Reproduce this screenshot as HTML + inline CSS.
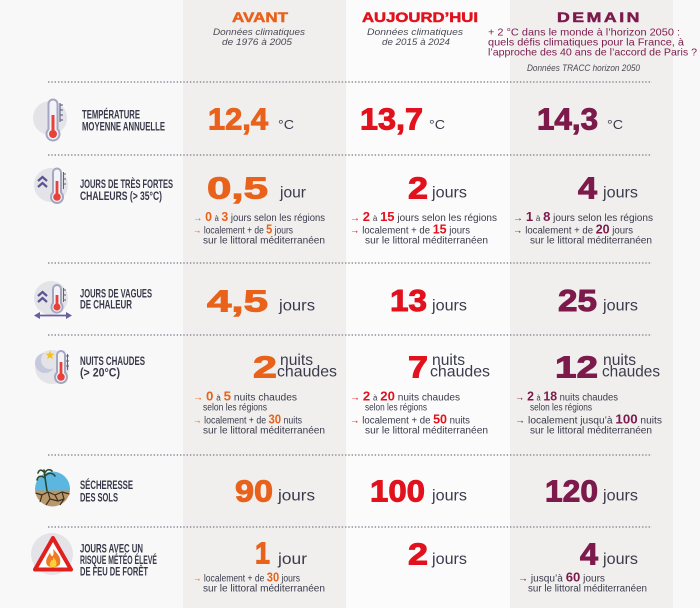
<!DOCTYPE html>
<html><head><meta charset="utf-8">
<style>
html,body{margin:0;padding:0;background:#f8f8f8;width:700px;height:608px;overflow:hidden}
svg{display:block}
text{font-family:"Liberation Sans",Arial,sans-serif}
.n{font-weight:bold;font-size:31px;stroke-width:1}
.u{font-size:16px;fill:#3b3b4d}
.deg{font-size:12.5px;fill:#3b3b4d}
.b{font-size:10px;fill:#3b3b4d}
.lb{font-family:"Liberation Sans Narrow","Liberation Sans",sans-serif;font-weight:bold;font-size:11.5px;fill:#38384a}
.o{fill:#e8621c;stroke:#e8621c}
.r{fill:#e1121d;stroke:#e1121d}
.p{fill:#7c1a4c;stroke:#7c1a4c}
.bo{font-weight:bold;font-size:13px;stroke:none}
.ar{stroke:none}
.sm{font-size:8px}
.it{font-style:italic;font-size:9.6px;fill:#4a4a55}
.h{font-weight:bold;font-size:14px}
</style></head><body>
<svg width="700" height="608" viewBox="0 0 700 608" xmlns="http://www.w3.org/2000/svg">
<defs>
<clipPath id="c5"><circle cx="52.5" cy="489" r="17.5"/></clipPath>
</defs>
<rect x="0" y="0" width="700" height="608" fill="#f8f8f8"/>
<rect x="183" y="0" width="163" height="608" fill="#f0efed"/>
<rect x="346" y="0" width="164" height="608" fill="#fbfbfb"/>
<rect x="510" y="0" width="163" height="608" fill="#f0efed"/>

<g stroke="#8e8e9c" stroke-width="1.4" stroke-dasharray="1.4 1.9">
<line x1="48" y1="82" x2="652" y2="82"/>
<line x1="48" y1="155" x2="652" y2="155"/>
<line x1="48" y1="263" x2="652" y2="263"/>
<line x1="48" y1="335" x2="652" y2="335"/>
<line x1="48" y1="455" x2="652" y2="455"/>
<line x1="48" y1="527" x2="652" y2="527"/>
</g>

<text class="h o" x="232" y="22" textLength="56" lengthAdjust="spacingAndGlyphs" style="stroke-width:0.5">AVANT</text>
<text class="h r" x="362" y="22" textLength="116" lengthAdjust="spacingAndGlyphs" style="stroke-width:0.5">AUJOURD’HUI</text>
<text class="h p" x="557" y="22" textLength="85" lengthAdjust="spacingAndGlyphs" style="stroke-width:0.5;letter-spacing:2px">DEMAIN</text>

<text class="it" x="259" y="35" text-anchor="middle" textLength="92" lengthAdjust="spacingAndGlyphs">Données climatiques</text>
<text class="it" x="257" y="45" text-anchor="middle" textLength="70" lengthAdjust="spacingAndGlyphs">de 1976 à 2005</text>
<text class="it" x="415" y="35" text-anchor="middle" textLength="96" lengthAdjust="spacingAndGlyphs">Données climatiques</text>
<text class="it" x="416" y="45" text-anchor="middle" textLength="68" lengthAdjust="spacingAndGlyphs">de 2015 à 2024</text>

<g style="font-size:10.5px;fill:#7c1a4c">
<text x="488" y="35.5" textLength="192" lengthAdjust="spacingAndGlyphs">+ 2 °C dans le monde à l’horizon 2050 :</text>
<text x="488" y="45.5" textLength="196" lengthAdjust="spacingAndGlyphs">quels défis climatiques pour la France, à</text>
<text x="488" y="55.5" textLength="209" lengthAdjust="spacingAndGlyphs">l’approche des 40 ans de l’accord de Paris ?</text>
</g>
<text class="it" x="527" y="71" textLength="113" lengthAdjust="spacingAndGlyphs">Données TRACC horizon 2050</text>

<text class="lb" x="82" y="118.5" textLength="58" lengthAdjust="spacingAndGlyphs">TEMPÉRATURE</text>
<text class="lb" x="82" y="130.5" textLength="83" lengthAdjust="spacingAndGlyphs">MOYENNE ANNUELLE</text>
<text class="lb" x="80" y="188" textLength="93" lengthAdjust="spacingAndGlyphs">JOURS DE TRÈS FORTES</text>
<text class="lb" x="80" y="200" textLength="82" lengthAdjust="spacingAndGlyphs">CHALEURS (&gt; 35°C)</text>
<text class="lb" x="80" y="297.5" textLength="72" lengthAdjust="spacingAndGlyphs">JOURS DE VAGUES</text>
<text class="lb" x="80" y="308.5" textLength="52" lengthAdjust="spacingAndGlyphs">DE CHALEUR</text>
<text class="lb" x="80" y="365" textLength="65" lengthAdjust="spacingAndGlyphs">NUITS CHAUDES</text>
<text class="lb" x="80" y="376.5" textLength="40" lengthAdjust="spacingAndGlyphs">(&gt; 20°C)</text>
<text class="lb" x="80" y="489" textLength="53" lengthAdjust="spacingAndGlyphs">SÉCHERESSE</text>
<text class="lb" x="80" y="501.5" textLength="38" lengthAdjust="spacingAndGlyphs">DES SOLS</text>
<text class="lb" x="80" y="552.5" textLength="63" lengthAdjust="spacingAndGlyphs">JOURS AVEC UN</text>
<text class="lb" x="80" y="564" textLength="77" lengthAdjust="spacingAndGlyphs">RISQUE MÉTÉO ÉLEVÉ</text>
<text class="lb" x="80" y="575.5" textLength="68" lengthAdjust="spacingAndGlyphs">DE FEU DE FORÊT</text>

<text class="n o" x="208" y="129.5" textLength="60" lengthAdjust="spacingAndGlyphs">12,4</text>
<text class="deg" x="278" y="129" textLength="16" lengthAdjust="spacingAndGlyphs">°C</text>
<text class="n r" x="360" y="129.5" textLength="63" lengthAdjust="spacingAndGlyphs">13,7</text>
<text class="deg" x="429" y="129" textLength="16" lengthAdjust="spacingAndGlyphs">°C</text>
<text class="n p" x="537" y="129.5" textLength="61" lengthAdjust="spacingAndGlyphs">14,3</text>
<text class="deg" x="607" y="129" textLength="16" lengthAdjust="spacingAndGlyphs">°C</text>

<text class="n o" x="207" y="198.5" textLength="61" lengthAdjust="spacingAndGlyphs">0,5</text>
<text class="u" x="280" y="197.5" textLength="26" lengthAdjust="spacingAndGlyphs">jour</text>
<text class="n r" x="408" y="198.5" textLength="20" lengthAdjust="spacingAndGlyphs">2</text>
<text class="u" x="432" y="197.5" textLength="35" lengthAdjust="spacingAndGlyphs">jours</text>
<text class="n p" x="578" y="198.5" textLength="19" lengthAdjust="spacingAndGlyphs">4</text>
<text class="u" x="603" y="197.5" textLength="35" lengthAdjust="spacingAndGlyphs">jours</text>

<text class="b" x="193" y="221" textLength="132" lengthAdjust="spacingAndGlyphs"><tspan class="o ar">→ </tspan><tspan class="bo o">0</tspan> <tspan class="sm">à</tspan> <tspan class="bo o">3</tspan> jours selon les régions</text>
<text class="b" x="193" y="233.5" textLength="100" lengthAdjust="spacingAndGlyphs"><tspan class="o ar">→ </tspan>localement + de <tspan class="bo o">5</tspan> jours</text>
<text class="b" x="203" y="243.5" textLength="122" lengthAdjust="spacingAndGlyphs">sur le littoral méditerranéen</text>

<text class="b" x="350" y="221" textLength="147" lengthAdjust="spacingAndGlyphs"><tspan class="r ar">→ </tspan><tspan class="bo r">2</tspan> <tspan class="sm">à</tspan> <tspan class="bo r">15</tspan> jours selon les régions</text>
<text class="b" x="350" y="233.5" textLength="120" lengthAdjust="spacingAndGlyphs"><tspan class="r ar">→ </tspan>localement + de <tspan class="bo r">15</tspan> jours</text>
<text class="b" x="365" y="243.5" textLength="123" lengthAdjust="spacingAndGlyphs">sur le littoral méditerranéen</text>

<text class="b" x="513" y="221" textLength="140" lengthAdjust="spacingAndGlyphs"><tspan class="p ar">→ </tspan><tspan class="bo p">1</tspan> <tspan class="sm">à</tspan> <tspan class="bo p">8</tspan> jours selon les régions</text>
<text class="b" x="513" y="233.5" textLength="120" lengthAdjust="spacingAndGlyphs"><tspan class="p ar">→ </tspan>localement + de <tspan class="bo p">20</tspan> jours</text>
<text class="b" x="530" y="243.5" textLength="122" lengthAdjust="spacingAndGlyphs">sur le littoral méditerranéen</text>

<text class="n o" x="207" y="311.5" textLength="61" lengthAdjust="spacingAndGlyphs">4,5</text>
<text class="u" x="279" y="310.5" textLength="36" lengthAdjust="spacingAndGlyphs">jours</text>
<text class="n r" x="390" y="311" textLength="37" lengthAdjust="spacingAndGlyphs">13</text>
<text class="u" x="432" y="310.5" textLength="35" lengthAdjust="spacingAndGlyphs">jours</text>
<text class="n p" x="558" y="311" textLength="39" lengthAdjust="spacingAndGlyphs">25</text>
<text class="u" x="603" y="310.5" textLength="35" lengthAdjust="spacingAndGlyphs">jours</text>

<text class="n o" x="253" y="377.5" textLength="24" lengthAdjust="spacingAndGlyphs">2</text>
<text class="u" x="280" y="365" textLength="33" lengthAdjust="spacingAndGlyphs">nuits</text>
<text class="u" x="277" y="376.5" textLength="60" lengthAdjust="spacingAndGlyphs">chaudes</text>
<text class="n r" x="408" y="377.5" textLength="20" lengthAdjust="spacingAndGlyphs">7</text>
<text class="u" x="432" y="365" textLength="33" lengthAdjust="spacingAndGlyphs">nuits</text>
<text class="u" x="430" y="376.5" textLength="60" lengthAdjust="spacingAndGlyphs">chaudes</text>
<text class="n p" x="555" y="377.5" textLength="43" lengthAdjust="spacingAndGlyphs">12</text>
<text class="u" x="603" y="365" textLength="33" lengthAdjust="spacingAndGlyphs">nuits</text>
<text class="u" x="602" y="376.5" textLength="58" lengthAdjust="spacingAndGlyphs">chaudes</text>

<text class="b" x="193" y="400.5" textLength="104" lengthAdjust="spacingAndGlyphs"><tspan class="o ar">→ </tspan><tspan class="bo o">0</tspan> <tspan class="sm">à</tspan> <tspan class="bo o">5</tspan> nuits chaudes</text>
<text class="b" x="203" y="410.5" textLength="64" lengthAdjust="spacingAndGlyphs">selon les régions</text>
<text class="b" x="193" y="423.5" textLength="109" lengthAdjust="spacingAndGlyphs"><tspan class="o ar">→ </tspan>localement + de <tspan class="bo o">30</tspan> nuits</text>
<text class="b" x="203" y="433.5" textLength="122" lengthAdjust="spacingAndGlyphs">sur le littoral méditerranéen</text>

<text class="b" x="350" y="400.5" textLength="110" lengthAdjust="spacingAndGlyphs"><tspan class="r ar">→ </tspan><tspan class="bo r">2</tspan> <tspan class="sm">à</tspan> <tspan class="bo r">20</tspan> nuits chaudes</text>
<text class="b" x="365" y="410.5" textLength="62" lengthAdjust="spacingAndGlyphs">selon les régions</text>
<text class="b" x="350" y="423.5" textLength="120" lengthAdjust="spacingAndGlyphs"><tspan class="r ar">→ </tspan>localement + de <tspan class="bo r">50</tspan> nuits</text>
<text class="b" x="365" y="433.5" textLength="123" lengthAdjust="spacingAndGlyphs">sur le littoral méditerranéen</text>

<text class="b" x="515" y="400.5" textLength="103" lengthAdjust="spacingAndGlyphs"><tspan class="p ar">→ </tspan><tspan class="bo p">2</tspan> <tspan class="sm">à</tspan> <tspan class="bo p">18</tspan> nuits chaudes</text>
<text class="b" x="530" y="410.5" textLength="62" lengthAdjust="spacingAndGlyphs">selon les régions</text>
<text class="b" x="515" y="423.5" textLength="147" lengthAdjust="spacingAndGlyphs"><tspan class="p ar">→ </tspan>localement jusqu’à <tspan class="bo p">100</tspan> nuits</text>
<text class="b" x="530" y="433.5" textLength="122" lengthAdjust="spacingAndGlyphs">sur le littoral méditerranéen</text>

<text class="n o" x="235" y="501.5" textLength="38" lengthAdjust="spacingAndGlyphs">90</text>
<text class="u" x="278" y="500.5" textLength="37" lengthAdjust="spacingAndGlyphs">jours</text>
<text class="n r" x="370" y="501.5" textLength="55" lengthAdjust="spacingAndGlyphs">100</text>
<text class="u" x="432" y="500.5" textLength="35" lengthAdjust="spacingAndGlyphs">jours</text>
<text class="n p" x="545" y="501.5" textLength="53" lengthAdjust="spacingAndGlyphs">120</text>
<text class="u" x="603" y="500.5" textLength="35" lengthAdjust="spacingAndGlyphs">jours</text>

<text class="n o" x="255" y="563.5" textLength="15" lengthAdjust="spacingAndGlyphs">1</text>
<text class="u" x="278" y="564" textLength="29" lengthAdjust="spacingAndGlyphs">jour</text>
<text class="n r" x="408" y="564.5" textLength="20" lengthAdjust="spacingAndGlyphs">2</text>
<text class="u" x="432" y="564" textLength="35" lengthAdjust="spacingAndGlyphs">jours</text>
<text class="n p" x="580" y="564.5" textLength="18" lengthAdjust="spacingAndGlyphs">4</text>
<text class="u" x="603" y="564" textLength="35" lengthAdjust="spacingAndGlyphs">jours</text>

<text class="b" x="193" y="581.5" textLength="107" lengthAdjust="spacingAndGlyphs"><tspan class="o ar">→ </tspan>localement + de <tspan class="bo o">30</tspan> jours</text>
<text class="b" x="203" y="591.5" textLength="122" lengthAdjust="spacingAndGlyphs">sur le littoral méditerranéen</text>
<text class="b" x="518" y="581.5" textLength="87" lengthAdjust="spacingAndGlyphs"><tspan class="p ar">→ </tspan>jusqu’à <tspan class="bo p">60</tspan> jours</text>
<text class="b" x="528" y="591.5" textLength="119" lengthAdjust="spacingAndGlyphs">sur le littoral méditerranéen</text>

<circle cx="50" cy="118" r="17" fill="#e3e3e8"/>
<rect x="47.5" y="98.5" width="11" height="36" rx="5.5" fill="#a3a8c0"/>
<circle cx="53" cy="134" r="7.5" fill="#a3a8c0"/>
<rect x="49.5" y="100.5" width="7" height="34" rx="3.5" fill="#f3f3f7"/>
<circle cx="53" cy="134" r="5.5" fill="#f3f3f7"/>
<rect x="51.5" y="115" width="3" height="19" fill="#e8413a"/>
<circle cx="53" cy="134" r="4" fill="#e8413a"/>
<g stroke="#5d6080" stroke-width="1.1"><line x1="60" y1="103" x2="60" y2="122"/><line x1="60" y1="105" x2="63" y2="105"/><line x1="60" y1="110" x2="63" y2="110"/><line x1="60" y1="115" x2="63" y2="115"/><line x1="60" y1="120" x2="63" y2="120"/></g>

<circle cx="51" cy="185" r="17" fill="#e3e3e8"/>
<rect x="52" y="167.5" width="10" height="31" rx="5" fill="#a3a8c0"/>
<circle cx="57" cy="197" r="7" fill="#a3a8c0"/>
<rect x="54" y="169.5" width="6" height="28" rx="3" fill="#f3f3f7"/>
<circle cx="57" cy="197" r="5" fill="#f3f3f7"/>
<rect x="55.6" y="181" width="2.8" height="16" fill="#e8413a"/>
<circle cx="57" cy="197" r="3.8" fill="#e8413a"/>
<g stroke="#5d6080" stroke-width="1"><line x1="63.5" y1="172" x2="63.5" y2="189"/><line x1="63.5" y1="174" x2="66" y2="174"/><line x1="63.5" y1="179" x2="66" y2="179"/><line x1="63.5" y1="184" x2="66" y2="184"/></g>
<g fill="none" stroke="#5b5490" stroke-width="2.2"><polyline points="38,181 42.5,177 47,181"/><polyline points="38,187 42.5,183 47,187"/></g>

<circle cx="51" cy="298" r="17" fill="#e3e3e8"/>
<rect x="52" y="284" width="10" height="25" rx="5" fill="#a3a8c0"/>
<circle cx="57" cy="307" r="6.5" fill="#a3a8c0"/>
<rect x="54" y="286" width="6" height="22" rx="3" fill="#f3f3f7"/>
<circle cx="57" cy="307" r="4.6" fill="#f3f3f7"/>
<rect x="55.6" y="295" width="2.8" height="12" fill="#e8413a"/>
<circle cx="57" cy="307" r="3.6" fill="#e8413a"/>
<g stroke="#5d6080" stroke-width="1"><line x1="63.5" y1="288" x2="63.5" y2="302"/><line x1="63.5" y1="290" x2="66" y2="290"/><line x1="63.5" y1="295" x2="66" y2="295"/><line x1="63.5" y1="300" x2="66" y2="300"/></g>
<g fill="none" stroke="#5b5490" stroke-width="2.2"><polyline points="38,296 42.5,292 47,296"/><polyline points="38,302 42.5,298 47,302"/></g>
<line x1="38" y1="315.5" x2="68" y2="315.5" stroke="#6b5fa0" stroke-width="1.8"/>
<path d="M34,315.5 L40,312 L40,319 Z M72,315.5 L66,312 L66,319 Z" fill="#6b5fa0"/>

<circle cx="52" cy="367" r="17" fill="#e3e3e8"/>
<circle cx="45" cy="363" r="10" fill="#c5c9de"/>
<circle cx="50" cy="360" r="9" fill="#e3e3e8"/>
<path d="M50,350.5 L51.2,353.6 L54.5,353.8 L52,355.9 L52.8,359.1 L50,357.3 L47.2,359.1 L48,355.9 L45.5,353.8 L48.8,353.6 Z" fill="#f2c11c"/>
<rect x="56" y="350" width="10" height="28" rx="5" fill="#a3a8c0"/>
<circle cx="61" cy="377" r="7" fill="#a3a8c0"/>
<rect x="58" y="352" width="6" height="25" rx="3" fill="#f3f3f7"/>
<circle cx="61" cy="377" r="5" fill="#f3f3f7"/>
<rect x="59.6" y="362" width="2.8" height="15" fill="#e8413a"/>
<circle cx="61" cy="377" r="3.8" fill="#e8413a"/>
<g stroke="#5d6080" stroke-width="1"><line x1="67.5" y1="354" x2="67.5" y2="370"/><line x1="66" y1="356" x2="69" y2="356"/><line x1="66" y1="361" x2="69" y2="361"/><line x1="66" y1="366" x2="69" y2="366"/></g>

<g clip-path="url(#c5)">
<rect x="34" y="470" width="38" height="20.5" fill="#5bb6e0"/>
<rect x="34" y="490.5" width="38" height="18" fill="#b8976a"/>
</g>
<g fill="none" stroke="#3d3020" stroke-width="1.2" stroke-linejoin="round">
<path d="M35.5,493 L42,495 L48,492 L55,495 L62,492 L69.5,494"/>
<path d="M42,495 L40,502 M48,492 L50,499 L46,505 M55,495 L58,501 M62,492 L64,499 L60,505 M50,499 L58,501 L64,499"/>
</g>
<g fill="none" stroke="#2d4a30" stroke-width="1.6" stroke-linecap="round">
<path d="M47,491 C46,484 45,478 44,470"/>
<path d="M45,478 C41,475 38,476 37,480"/>
<path d="M45,476 C49,472 53,473 55,476"/>
<path d="M44,472 C41,469 39,470 38,473"/>
<path d="M44.5,473 C47,469 50,469 52,471"/>
</g>

<circle cx="52" cy="554" r="21" fill="#e3e3e8"/>
<path d="M53,538 L71,569.5 L35,569.5 Z" fill="#ffffff" stroke="#e0201e" stroke-width="4" stroke-linejoin="round"/>
<path d="M53,549 C58,554 61.5,558 60,564 C58.5,568 48,568.5 46.5,564 C45,559 48.5,556 50,552.5 C50.8,556 52.5,557 53,555.5 C54,553.5 53.5,551 53,549 Z" fill="#f07a22"/>
<path d="M53,557 C56,560 57.5,563 56,566 C54.5,568 51,568 50,566 C49,563.5 51,561 52,559.5 C52.5,561 53.5,561 53,557 Z" fill="#fcd03a"/>
</svg>
</body></html>
